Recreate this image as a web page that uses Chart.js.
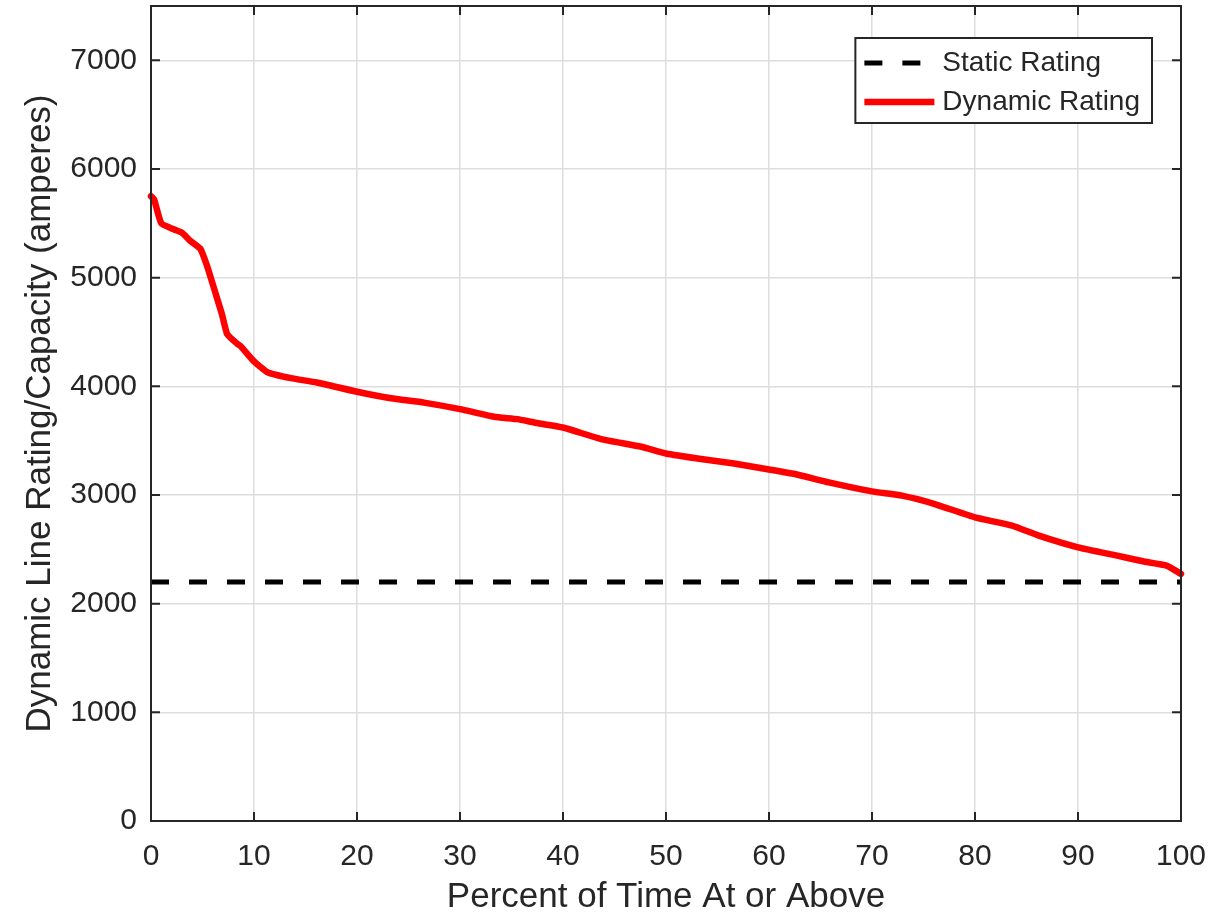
<!DOCTYPE html>
<html>
<head>
<meta charset="utf-8">
<script src="https://cdn.jsdelivr.net/npm/chart.js@4.4.1/dist/chart.umd.min.js"></script>
<style>
  html, body { margin: 0; padding: 0; background: #fff; }
  #wrap { width: 1212px; height: 923px; }
</style>
</head>
<body>
<div id="wrap"><canvas id="ratingChart" width="1212" height="923"></canvas></div>
<script>
// Duration curve
const pctTime = [0, 0.3, 1.0, 2.2, 3.0, 3.8, 4.8, 5.4, 5.9, 6.4, 6.9, 7.4, 8.4, 8.7, 10, 11.3, 13.6, 16.1,
    20, 23.3, 26.5, 30, 33.3, 35.6, 37.2, 40, 43.7, 47.6, 50, 53.4, 56.6, 60, 62.5, 65.8, 70,
    72.9, 76.1, 80, 83.6, 86.2, 90, 93.8, 96.3, 98.6, 100];
const dynamicRating = [5750, 5720, 5500, 5445, 5414, 5340, 5265, 5120, 4970, 4815, 4660, 4480, 4390, 4370, 4230, 4130, 4075, 4035,
    3950, 3890, 3850, 3790, 3720, 3698, 3667, 3621, 3515, 3444, 3382, 3331, 3290, 3235, 3193, 3116, 3033,
    2994, 2917, 2794, 2718, 2626, 2518, 2442, 2390, 2350, 2274];
const staticX = [0, 100];
const staticRating = [2200, 2200];
const xTicks = [0, 10, 20, 30, 40, 50, 60, 70, 80, 90, 100];
const yTicks = [0, 1000, 2000, 3000, 4000, 5000, 6000, 7000];

const FONT = '"Liberation Sans", Arial, Helvetica, sans-serif';
const TEXT = '#262626';

function toPoints(xs, ys) {
    return xs.map((x, i) => ({ x: x, y: ys[i] }));
}

// box around the plot + inward tick marks (matlab style)
const boxTicks = {
    id: 'boxTicks',
    afterDatasetsDraw(chart) {
        const { ctx, chartArea: a, scales } = chart;
        const len = 9;
        ctx.save();
        ctx.strokeStyle = TEXT;
        ctx.lineWidth = 2;
        ctx.beginPath();
        xTicks.forEach(v => {
            const px = scales.x.getPixelForValue(v);
            ctx.moveTo(px, a.bottom); ctx.lineTo(px, a.bottom - len);
            ctx.moveTo(px, a.top); ctx.lineTo(px, a.top + len);
        });
        yTicks.forEach(v => {
            const py = scales.y.getPixelForValue(v);
            ctx.moveTo(a.left, py); ctx.lineTo(a.left + len, py);
            ctx.moveTo(a.right, py); ctx.lineTo(a.right - len, py);
        });
        ctx.stroke();
        ctx.strokeRect(a.left, a.top, a.right - a.left, a.bottom - a.top);
        ctx.restore();
    }
};

// legend box inside the plot, top right
const insideLegend = {
    id: 'insideLegend',
    afterDraw(chart) {
        const { ctx, chartArea: a } = chart;
        const sets = chart.data.datasets;
        ctx.save();
        ctx.font = '28px ' + FONT;
        const textW = Math.max(...sets.map(d => ctx.measureText(d.label).width));
        const w = 87 + textW + 12;
        const h = 85;
        const x0 = a.right - 29 - w;
        const y0 = a.top + 32;
        ctx.fillStyle = '#fff';
        ctx.fillRect(x0, y0, w, h);
        ctx.strokeStyle = TEXT;
        ctx.lineWidth = 2;
        ctx.strokeRect(x0, y0, w, h);
        sets.forEach((d, i) => {
            const cy = y0 + 25 + i * 39;
            ctx.beginPath();
            ctx.strokeStyle = d.borderColor;
            ctx.lineWidth = d.borderWidth;
            ctx.setLineDash(d.borderDash || []);
            ctx.moveTo(x0 + 9, cy);
            ctx.lineTo(x0 + 79, cy);
            ctx.stroke();
            ctx.setLineDash([]);
            ctx.fillStyle = TEXT;
            ctx.textBaseline = 'middle';
            ctx.fillText(d.label, x0 + 87, cy);
        });
        ctx.restore();
    }
};

const ctx = document.getElementById('ratingChart').getContext('2d');
new Chart(ctx, {
    type: 'line',
    data: {
        datasets: [
            {
                label: 'Static Rating',
                data: toPoints(staticX, staticRating),
                borderColor: '#000000',
                borderWidth: 5,
                borderDash: [18, 20],
                pointRadius: 0,
                clip: 6
            },
            {
                label: 'Dynamic Rating',
                data: toPoints(pctTime, dynamicRating),
                borderColor: '#ff0000',
                borderWidth: 6.5,
                borderCapStyle: 'round',
                borderJoinStyle: 'round',
                pointRadius: 0,
                tension: 0.15,
                clip: 6
            }
        ]
    },
    options: {
        responsive: false,
        animation: false,
        layout: { padding: { left: 0, right: 31, top: 6, bottom: 0 } },
        plugins: {
            legend: { display: false },
            tooltip: { enabled: false }
        },
        scales: {
            x: {
                type: 'linear',
                min: 0,
                max: 100,
                afterBuildTicks: s => { s.ticks = xTicks.map(v => ({ value: v })); },
                afterFit: s => { s.height = 102; s.paddingLeft = 0; s.paddingRight = 0; },
                grid: { color: '#dedede', lineWidth: 1.5, drawTicks: false },
                border: { display: false },
                ticks: {
                    color: TEXT,
                    padding: 18,
                    maxRotation: 0,
                    font: { family: FONT, size: 30 }
                },
                title: {
                    display: true,
                    text: 'Percent of Time At or Above',
                    color: TEXT,
                    font: { family: FONT, size: 35 },
                    padding: { top: 0, bottom: 5 }
                }
            },
            y: {
                type: 'linear',
                min: 0,
                max: 7500,
                afterBuildTicks: s => { s.ticks = yTicks.map(v => ({ value: v })); },
                afterFit: s => { s.width = 151; s.paddingTop = 0; s.paddingBottom = 0; },
                grid: { color: '#dedede', lineWidth: 1.5, drawTicks: false },
                border: { display: false },
                ticks: {
                    color: TEXT,
                    padding: 14,
                    font: { family: FONT, size: 30 },
                    callback: v => String(v)
                },
                title: {
                    display: true,
                    text: 'Dynamic Line Rating/Capacity (amperes)',
                    color: TEXT,
                    font: { family: FONT, size: 35 },
                    padding: { top: 19, bottom: 0 }
                }
            }
        }
    },
    plugins: [boxTicks, insideLegend]
});
</script>
</body>
</html>
